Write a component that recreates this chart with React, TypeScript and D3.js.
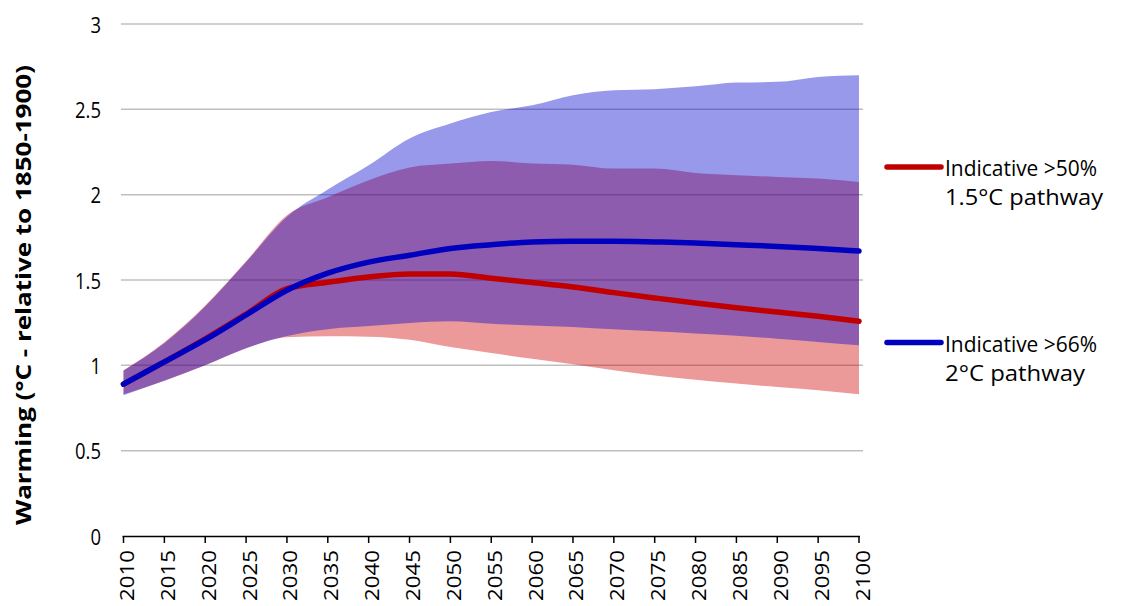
import React from "react";
import * as d3 from "d3";

const years = [2010, 2015, 2020, 2025, 2030, 2035, 2040, 2045, 2050, 2055, 2060, 2065, 2070, 2075, 2080, 2085, 2090, 2095, 2100];

// Indicative >50% 1.5°C pathway
const redMedian = [0.89, 1.02, 1.155, 1.3, 1.45, 1.487, 1.518, 1.535, 1.535, 1.51, 1.485, 1.459, 1.426, 1.395, 1.365, 1.338, 1.312, 1.287, 1.258];
const redLow = [0.83, 0.91, 1.0, 1.1, 1.165, 1.17, 1.168, 1.15, 1.107, 1.072, 1.039, 1.006, 0.971, 0.941, 0.916, 0.893, 0.873, 0.854, 0.83];
const redHigh = [0.97, 1.135, 1.35, 1.61, 1.88, 1.985, 2.084, 2.159, 2.182, 2.198, 2.182, 2.176, 2.153, 2.153, 2.127, 2.114, 2.104, 2.094, 2.074];

// Indicative >66% 2°C pathway
const blueMedian = [0.89, 1.02, 1.15, 1.295, 1.44, 1.54, 1.605, 1.645, 1.685, 1.707, 1.723, 1.727, 1.727, 1.723, 1.717, 1.707, 1.697, 1.684, 1.67];
const blueLow = [0.825, 0.91, 1.0, 1.1, 1.172, 1.212, 1.23, 1.248, 1.258, 1.244, 1.234, 1.225, 1.211, 1.199, 1.186, 1.174, 1.156, 1.137, 1.117];
const blueHigh = [0.97, 1.13, 1.345, 1.605, 1.87, 2.03, 2.172, 2.329, 2.417, 2.485, 2.524, 2.583, 2.612, 2.618, 2.635, 2.657, 2.661, 2.69, 2.7];

const yTicks = [0, 0.5, 1, 1.5, 2, 2.5, 3];
const yTickLabels = ["0", "0.5", "1", "1.5", "2", "2.5", "3"];
const yTitle = "Warming (°C - relative to 1850-1900)";
const legendItems = [
  { lines: ["Indicative >50%", "1.5°C pathway"], color: "#C00000", widths: [152, 158] },
  { lines: ["Indicative >66%", "2°C pathway"], color: "#0000BF", widths: [152, 140] },
];

const W = 1132;
const H = 606;
const FONT = "'Open Sans', 'Noto Sans', sans-serif";

export default function App() {
  const x = d3.scaleLinear().domain([2010, 2100]).range([123.5, 859]);
  const y = d3.scaleLinear().domain([0, 3]).range([536, 24]);

  const area = (lo: number[], hi: number[]) =>
    d3
      .area<number>()
      .x((_, i) => x(years[i]))
      .y0((_, i) => y(lo[i]))
      .y1((_, i) => y(hi[i]))
      .curve(d3.curveMonotoneX)(years) as string;

  const line = (vals: number[]) =>
    d3
      .line<number>()
      .x((_, i) => x(years[i]))
      .y((_, i) => y(vals[i]))
      .curve(d3.curveMonotoneX)(years) as string;

  const legendY = [167, 342.5];

  return (
    <svg
      width={W}
      height={H}
      style={{ position: "absolute", left: 0, top: 0, background: "#fff" }}
      fontFamily={FONT}
    >
      {/* gridlines */}
      {yTicks.slice(1).map((t) => (
        <line key={t} x1={121} x2={863} y1={y(t)} y2={y(t)} stroke="#BFBFBF" strokeWidth={1.5} />
      ))}
      {/* y tick labels */}
      {yTicks.map((t, i) => (
        <g key={t} transform={`translate(101,${y(t)}) scale(0.84,1)`}>
          <text x={0} y={0} textAnchor="end" dominantBaseline="central" fontSize={22} fill="#000">
            {yTickLabels[i]}
          </text>
        </g>
      ))}
      {/* y title */}
      <text
        transform={`translate(22,295) rotate(-90)`}
        textAnchor="middle"
        dominantBaseline="central"
        fontSize={22}
        fontWeight="bold"
        textLength={460}
        lengthAdjust="spacingAndGlyphs"
        fill="#000"
      >
        {yTitle}
      </text>

      {/* bands */}
      <path d={area(redLow, redHigh)} fill="rgb(204,0,0)" fillOpacity={0.4} />
      <path d={area(blueLow, blueHigh)} fill="rgb(0,0,204)" fillOpacity={0.4} />

      {/* median lines */}
      <path d={line(redMedian)} fill="none" stroke="#C00000" strokeWidth={5.5} strokeLinecap="round" strokeLinejoin="round" />
      <path d={line(blueMedian)} fill="none" stroke="#0000BF" strokeWidth={5.5} strokeLinecap="round" strokeLinejoin="round" />

      {/* x axis */}
      <line x1={122.5} x2={860} y1={536.5} y2={536.5} stroke="#000" strokeWidth={1.5} />
      {years.map((yr) => (
        <g key={yr}>
          <line x1={x(yr)} x2={x(yr)} y1={536.5} y2={543} stroke="#000" strokeWidth={1.5} />
          <text
            transform={`translate(${x(yr) + 3},550) rotate(-90)`}
            textAnchor="end"
            dominantBaseline="central"
            fontSize={20}
            textLength={51}
            lengthAdjust="spacingAndGlyphs"
            fill="#000"
          >
            {yr}
          </text>
        </g>
      ))}

      {/* legend */}
      {legendItems.map((it, i) => (
        <g key={i}>
          <line x1={887} x2={941} y1={legendY[i]} y2={legendY[i]} stroke={it.color} strokeWidth={5.5} strokeLinecap="round" />
          {it.lines.map((s, j) => (
            <text
              key={j}
              x={945}
              y={legendY[i] + 9 + j * 29}
              fontSize={22}
              textLength={it.widths[j]}
              lengthAdjust="spacingAndGlyphs"
              fill="#000"
            >
              {s}
            </text>
          ))}
        </g>
      ))}
    </svg>
  );
}
